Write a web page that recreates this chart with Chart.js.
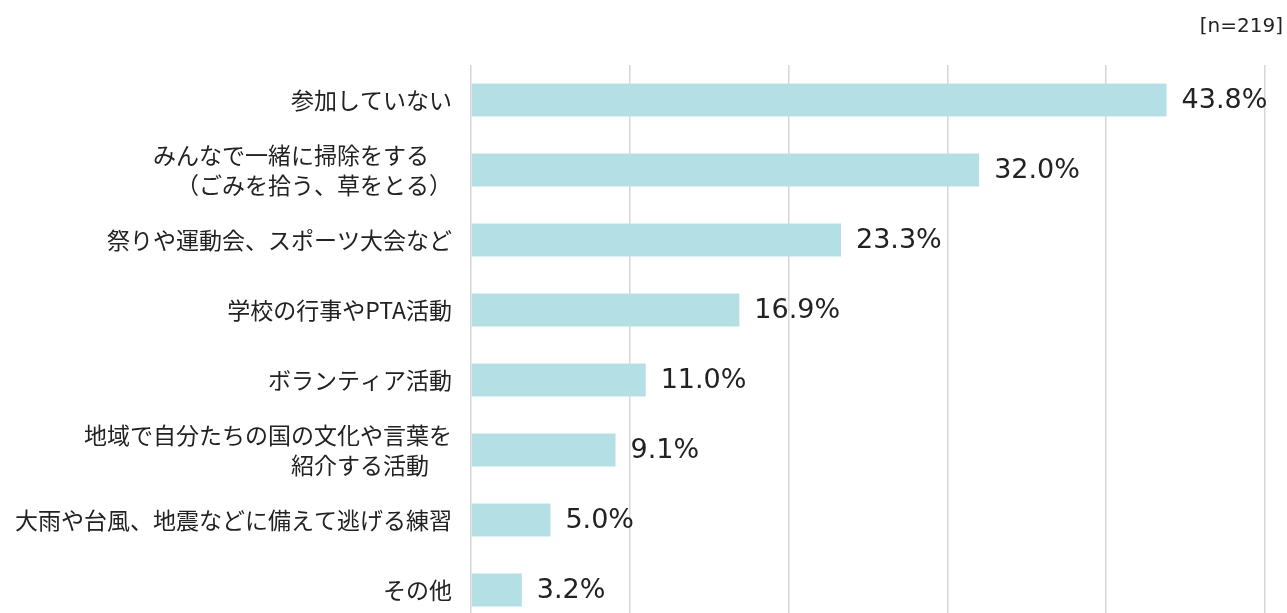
<!DOCTYPE html>
<html lang="ja">
<head>
<meta charset="utf-8">
<title>参加している地域活動</title>
<script src="https://cdn.jsdelivr.net/npm/chart.js@4"></script>
<style>
  html, body { margin: 0; padding: 0; background: #fff; overflow: hidden; }
  #wrap { position: relative; width: 1287px; height: 659px; }
</style>
</head>
<body>
<div id="wrap"><canvas id="chart"></canvas></div>
<script>
  // 地域活動への参加状況 (n=219)
  const categories = [
    "参加していない",
    ["みんなで一緒に掃除をする　", "（ごみを拾う、草をとる）"],
    "祭りや運動会、スポーツ大会など",
    "学校の行事やPTA活動",
    "ボランティア活動",
    ["地域で自分たちの国の文化や言葉を", "紹介する活動　"],
    "大雨や台風、地震などに備えて逃げる練習",
    "その他",
  ];
  const values = [43.8, 32.0, 23.3, 16.9, 11.0, 9.1, 5.0, 3.2];
  const sampleNote = "[n=219]";

  const FONT = '"Noto Sans CJK JP", "Noto Sans", sans-serif';
  const NUM_FONT = '"DejaVu Sans", sans-serif';

  const valueLabels = {
    id: "valueLabels",
    afterDatasetsDraw(chart) {
      const { ctx } = chart;
      const meta = chart.getDatasetMeta(0);
      ctx.save();
      ctx.font = "27px " + NUM_FONT;
      ctx.fillStyle = "#222";
      ctx.textBaseline = "middle";
      ctx.textAlign = "left";
      meta.data.forEach((bar, i) => {
        ctx.fillText(values[i].toFixed(1) + "%", bar.x + 15, bar.y + 1);
      });
      ctx.font = "20px " + NUM_FONT;
      ctx.textAlign = "right";
      ctx.fillText(sampleNote, 1283, 27);
      ctx.restore();
    },
  };

  new Chart(document.getElementById("chart"), {
    type: "bar",
    data: {
      labels: categories,
      datasets: [{
        data: values,
        backgroundColor: "#b3dfe5",
        categoryPercentage: 1,
        barPercentage: 0.47,
      }],
    },
    options: {
      indexAxis: "y",
      responsive: true,
      maintainAspectRatio: false,
      animation: false,
      layout: { padding: { top: 65, right: 22, bottom: 5, left: 0 } },
      plugins: { legend: { display: false }, tooltip: { enabled: false } },
      scales: {
        x: {
          min: 0,
          max: 50,
          ticks: { display: false, stepSize: 10 },
          grid: { color: "#d6d6d6", lineWidth: 1.5, drawTicks: false },
          border: { display: false },
        },
        y: {
          ticks: {
            color: "#222",
            font: { family: FONT, size: 23, lineHeight: 1.3 },
            padding: 19,
            autoSkip: false,
          },
          grid: { display: false, drawTicks: false },
          border: { display: false },
          afterFit(scale) { scale.width = 471; },
        },
      },
    },
    plugins: [valueLabels],
  });
</script>
</body>
</html>
